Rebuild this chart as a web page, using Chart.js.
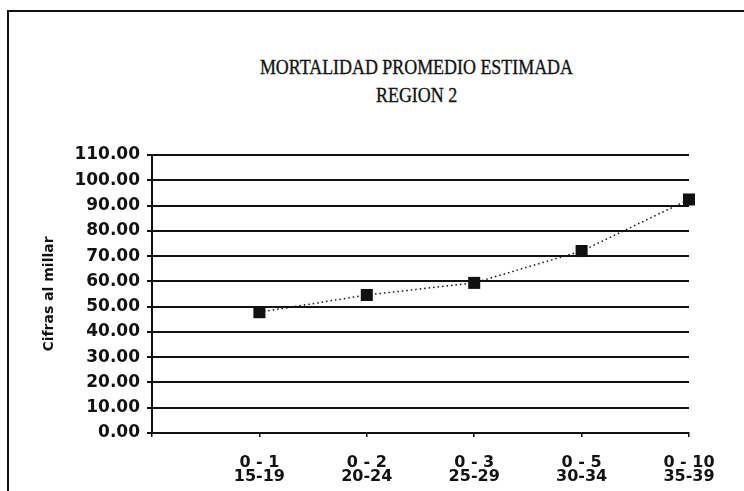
<!DOCTYPE html>
<html>
<head>
<meta charset="utf-8">
<script src="https://cdn.jsdelivr.net/npm/chart.js@4/dist/chart.umd.min.js"></script>
<style>
  html, body { margin: 0; padding: 0; background: #fff; }
  #wrap { position: relative; width: 744px; height: 491px; overflow: hidden; background: #fff; }
  #frame { position: absolute; left: 7px; top: 10px; right: -10px; bottom: -10px;
           border-top: 2px solid #111; border-left: 2px solid #111; }
  .ttl { position: absolute; left: 148px; width: 537px; text-align: center;
         font-family: "Liberation Serif", "DejaVu Serif", serif; font-size: 21px; line-height: 21px;
         color: #111; white-space: nowrap; -webkit-text-stroke: 0.35px #111; }
  .ttl span { display: inline-block; transform-origin: center; }
  #c { position: absolute; left: 0; top: 0; }
</style>
</head>
<body>
<div id="wrap">
  <div id="frame"></div>
  <div class="ttl" style="top:57px;"><span id="t1">MORTALIDAD PROMEDIO ESTIMADA</span></div>
  <div class="ttl" style="top:85px;"><span id="t2">REGION 2</span></div>
  <canvas id="c" width="744" height="491"></canvas>
</div>
<script>
// ---- data ----
const titleLines  = ['MORTALIDAD PROMEDIO ESTIMADA', 'REGION 2'];
const ageGroups   = ['0 - 1', '0 - 2', '0 - 3', '0 - 5', '0 - 10'];
const motherAges  = ['15-19', '20-24', '25-29', '30-34', '35-39'];
const mortality   = [47.8, 54.6, 59.4, 72.0, 92.4];
const yAxisTitle  = 'Cifras al millar';
const yMin = 0, yMax = 110, yStep = 10;

// condensed serif title: squeeze the first line to the reference width, same factor for both
const t1 = document.getElementById('t1'), t2 = document.getElementById('t2');
t1.textContent = titleLines[0]; t2.textContent = titleLines[1];
const k = 313 / t1.getBoundingClientRect().width;
t1.style.transform = 'scaleX(' + k + ')';
t2.style.transform = 'scaleX(' + k + ')';

const points = mortality.map((v, i) => ({ x: i + 1, y: v }));

new Chart(document.getElementById('c'), {
  type: 'line',
  data: {
    datasets: [{
      data: points,
      borderColor: '#111',
      borderWidth: 1.5,
      borderDash: [1.5, 3],
      tension: 0,
      fill: false,
      pointStyle: 'rect',
      pointRadius: 8.5,
      pointHoverRadius: 8.5,
      pointBackgroundColor: '#111',
      pointBorderWidth: 0,
      clip: false
    }]
  },
  options: {
    responsive: false,
    animation: false,
    events: [],
    layout: { padding: { left: 0, right: 55, top: 155, bottom: 0 } },
    plugins: { legend: { display: false }, tooltip: { enabled: false }, title: { display: false } },
    scales: {
      x: {
        type: 'linear',
        min: 0,
        max: ageGroups.length,
        afterFit: (s) => { s.height = 58; },
        grid: { drawOnChartArea: false, drawTicks: true, tickLength: 4, color: '#111', lineWidth: 1.5 },
        border: { display: true, color: '#111', width: 2 },
        ticks: {
          stepSize: 1,
          autoSkip: false,
          maxRotation: 0,
          padding: 19,
          color: '#111',
          font: { family: 'DejaVu Sans', weight: 'bold', size: 16, lineHeight: 0.875 },
          callback: (v) => (v >= 1 && v <= ageGroups.length) ? [ageGroups[v - 1], motherAges[v - 1]] : ''
        }
      },
      y: {
        min: yMin,
        max: yMax,
        afterFit: (s) => { s.width = 152; },
        grid: { color: '#111', lineWidth: 2, tickLength: 5, drawTicks: true },
        border: { display: true, color: '#111', width: 2 },
        ticks: {
          stepSize: yStep,
          padding: 7,
          color: '#111',
          font: { family: 'DejaVu Sans', weight: 'bold', size: 17 },
          callback: (v) => Number(v).toFixed(2)
        },
        title: {
          display: true,
          text: yAxisTitle,
          color: '#111',
          font: { family: 'DejaVu Sans', weight: 'bold', size: 14 },
          padding: { top: 41, bottom: 0 }
        }
      }
    }
  }
});
</script>
</body>
</html>
